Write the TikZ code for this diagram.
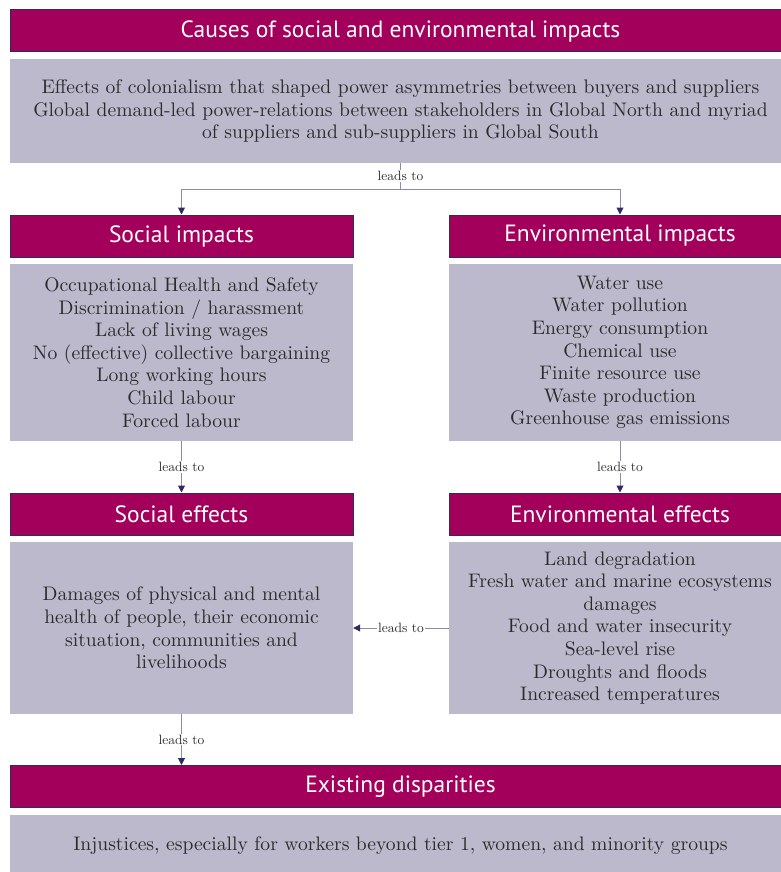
\documentclass[tikz,border=0pt]{standalone}
\usepackage{fontspec}
\setmainfont{lmroman10-regular.otf}
\newfontfamily\headfont{PT Sans}
\usepackage{tikz}
\usetikzlibrary{arrows.meta}
\definecolor{plum}{HTML}{A3005C}
\definecolor{navy}{HTML}{2E2B62}
\definecolor{lilac}{HTML}{BDB9CD}
\definecolor{wire}{HTML}{8E8AAE}
\definecolor{ink}{HTML}{2B2B2B}

\tikzset{
    headbox/.style={draw=navy, line width=1pt, fill=plum, text=white, inner sep=0pt,
        font=\headfont\fontsize{23.5}{26}\selectfont, minimum height=42pt},
    textbox/.style={fill=lilac, text=ink, inner sep=0pt, align=center,
        font=\fontsize{19.6}{22.6}\selectfont},
    flow/.style={draw=wire, line width=1pt, -{Triangle[length=7pt,width=7pt,color=navy]}},
    wire/.style={draw=wire, line width=1pt},
    leads/.style={fill=white, text=ink, inner sep=1pt, font=\fontsize{13.5}{15}\selectfont}
}

\begin{document}
\begin{tikzpicture}[x=1pt, y=-1pt]
    % Cadre de la figure
    \useasboundingbox (0,0) rectangle (781,872);

    % Causes
    \node[headbox, minimum width=781pt] (causeshead) at (400.5,31) {Causes of social and environmental impacts};
    \node[textbox, minimum width=781pt, minimum height=104pt] (causesbox) at (400.5,111)
        {Effects of colonialism that shaped power asymmetries between buyers and suppliers\\
         Global demand-led power-relations between stakeholders in Global North and myriad\\
         of suppliers and sub-suppliers in Global South};

    % Impacts sociaux
    \node[headbox, minimum width=343pt] (socimphead) at (181.5,236) {Social impacts};
    \node[textbox, minimum width=343pt, minimum height=177pt] (socimpbox) at (181.5,352.5)
        {Occupational Health and Safety\\
         Discrimination / harassment\\
         Lack of living wages\\
         No (effective) collective bargaining\\
         Long working hours\\
         Child labour\\
         Forced labour};

    % Impacts environnementaux
    \node[headbox, minimum width=342pt] (envimphead) at (620,236) {Environmental impacts};
    \node[textbox, minimum width=342pt, minimum height=177pt] (envimpbox) at (620,352.5)
        {Water use\\
         Water pollution\\
         Energy consumption\\
         Chemical use\\
         Finite resource use\\
         Waste production\\
         Greenhouse gas emissions};

    % Effets sociaux
    \node[headbox, minimum width=343pt] (soceffhead) at (181.5,514) {Social effects};
    \node[textbox, minimum width=343pt, minimum height=172pt] (soceffbox) at (181.5,628)
        {Damages of physical and mental\\
         health of people, their economic\\
         situation, communities and\\
         livelihoods};

    % Effets environnementaux
    \node[headbox, minimum width=342pt] (enveffhead) at (620,514) {Environmental effects};
    \node[textbox, minimum width=342pt, minimum height=172pt] (enveffbox) at (620,628)
        {Land degradation\\
         Fresh water and marine ecosystems\\
         damages\\
         Food and water insecurity\\
         Sea-level rise\\
         Droughts and floods\\
         Increased temperatures};

    % Disparites
    \node[headbox, minimum width=781pt] (disphead) at (400.5,786.5) {Existing disparities};
    \node[textbox, minimum width=781pt, minimum height=62pt] (dispbox) at (400.5,846)
        {Injustices, especially for workers beyond tier 1, women, and minority groups};

    % Fleches
    \coordinate (split) at (causesbox.south |- 0,189);
    \draw[wire] (causesbox.south) -- node[leads] {leads to} (split);
    \draw[flow] (split) -| (socimphead.north);
    \draw[flow] (split) -| (envimphead.north);
    \draw[flow] (socimpbox.south) -- node[leads] {leads to} (soceffhead.north);
    \draw[flow] (envimpbox.south) -- node[leads] {leads to} (enveffhead.north);
    \draw[flow] (enveffbox.west) -- node[leads] {leads to} (soceffbox.east);
    \draw[flow] (soceffbox.south) -- node[leads] {leads to} (soceffbox.south |- disphead.north);
\end{tikzpicture}
\end{document}
